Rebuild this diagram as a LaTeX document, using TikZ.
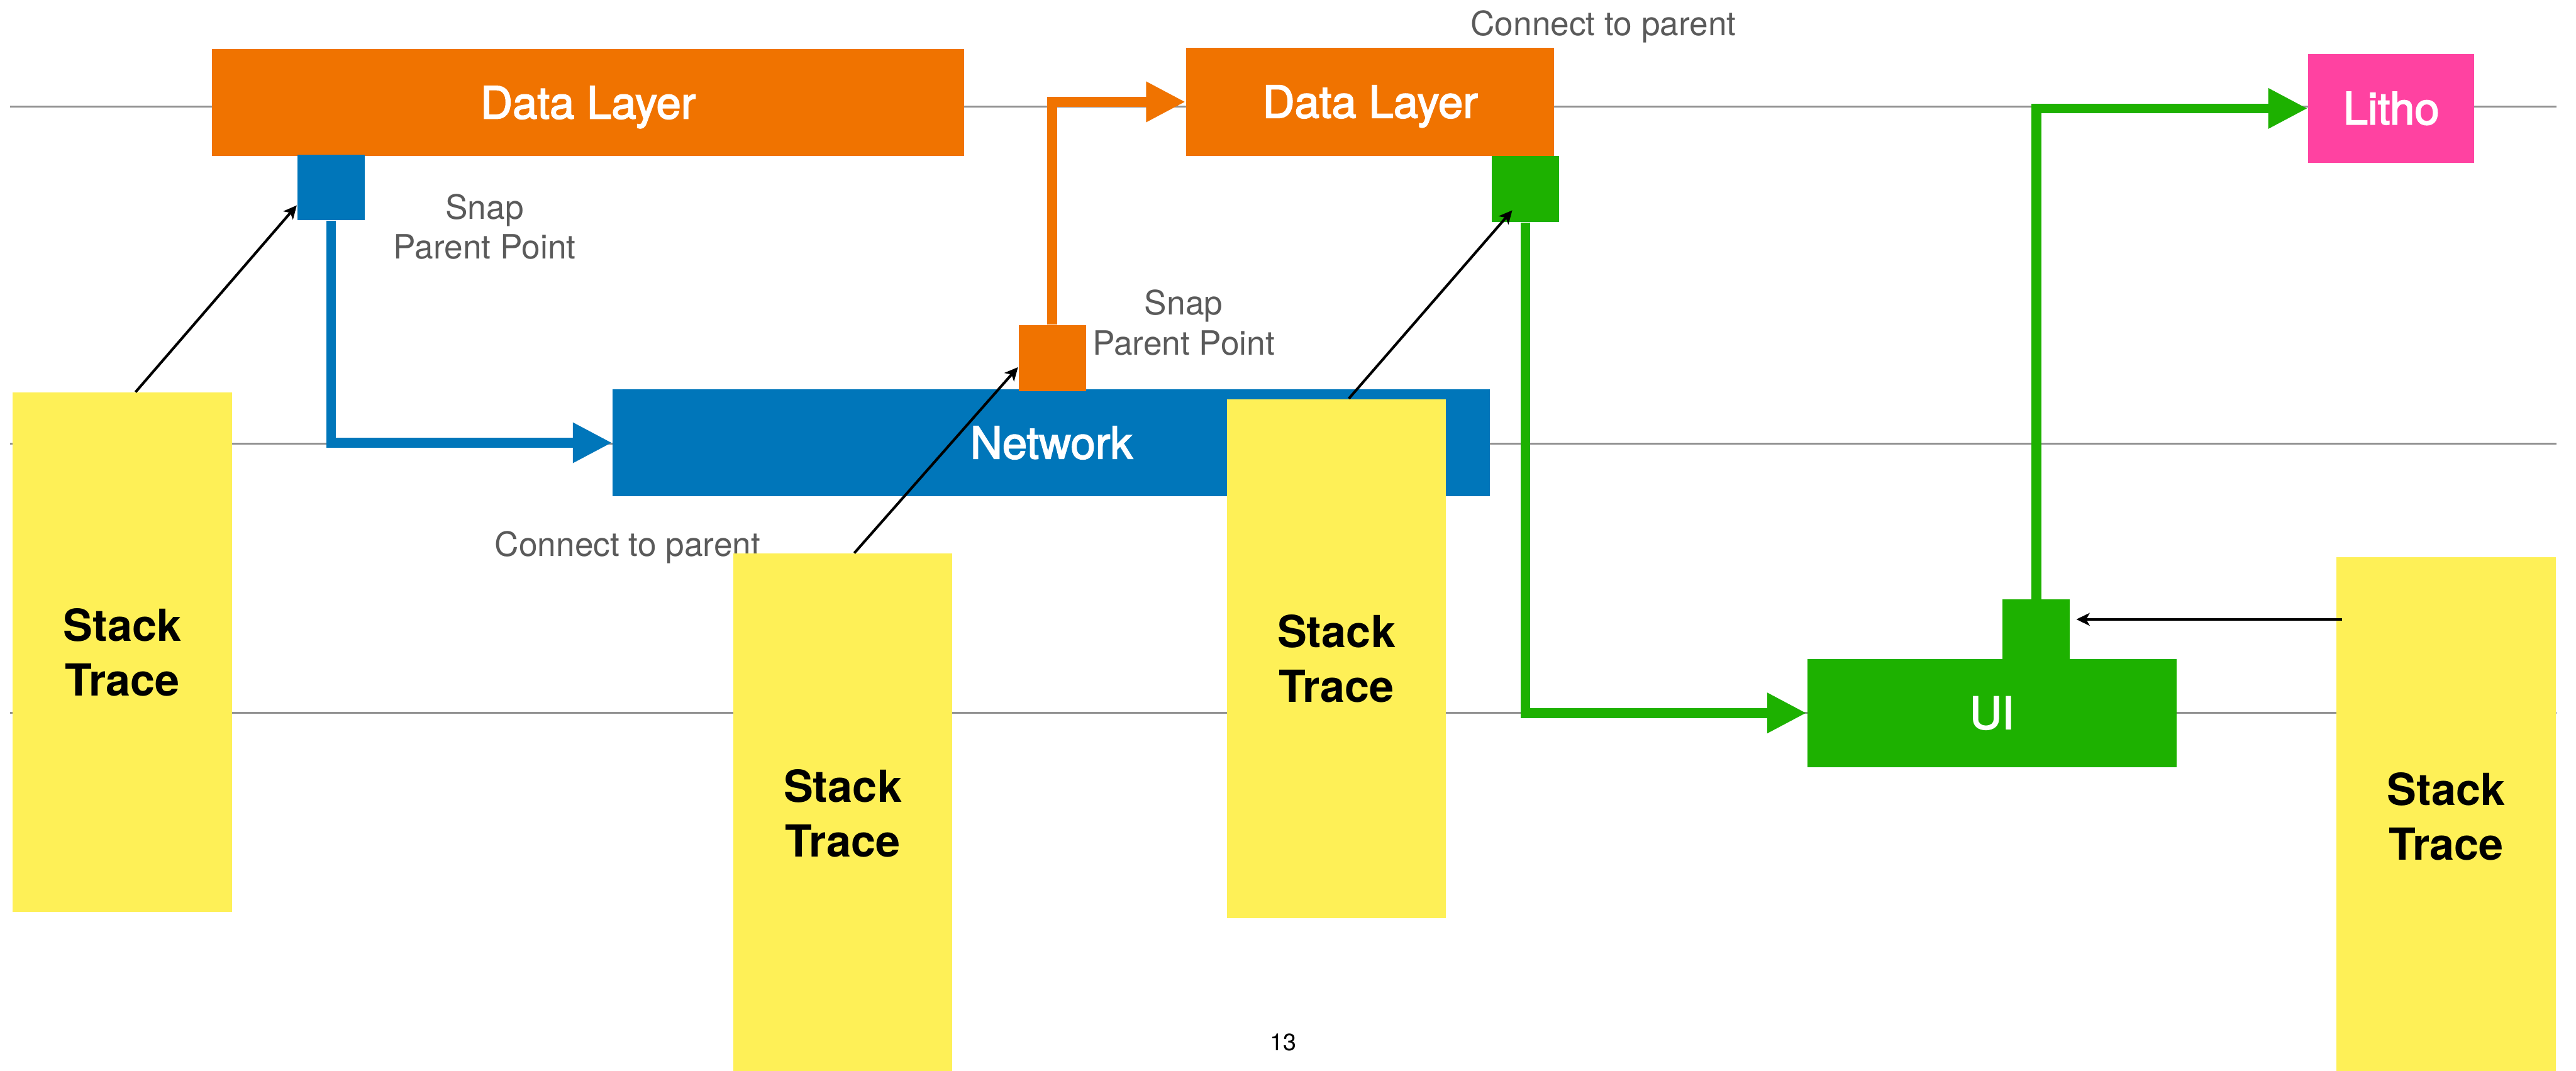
\documentclass[tikz,border=0pt]{standalone}
\usepackage{fontspec}
\setmainfont{TeX Gyre Heros}
\newfontfamily\layerfont[FakeBold=2.5]{TeX Gyre Heros}
\usetikzlibrary{arrows.meta}

\definecolor{dlorange}{RGB}{240,115,0}
\definecolor{netblue}{RGB}{0,118,186}
\definecolor{uigreen}{RGB}{29,177,0}
\definecolor{lithopink}{RGB}{255,66,161}
\definecolor{stickyyellow}{RGB}{254,240,87}
\definecolor{rulegray}{RGB}{146,146,146}
\definecolor{notegray}{RGB}{90,90,90}

\begin{document}
\begin{tikzpicture}[y=-1cm,
    layer/.style={fill=#1, text=white, minimum height=1.3cm, inner sep=0pt,
      font=\layerfont\fontsize{15.4}{18}\selectfont, text height=11pt, text depth=0pt},
    snapbox/.style={fill=#1, minimum width=0.82cm, minimum height=0.8cm, inner sep=0pt},
    stacknote/.style={fill=stickyyellow, minimum width=2.67cm, minimum height=6.32cm,
      align=center, font=\bfseries\fontsize{15.3}{19}\selectfont},
    note/.style={text=notegray, align=center, inner sep=0pt, font=\fontsize{11.6}{13.9}\selectfont},
    link/.style={draw=#1, line width=3.4pt, -{Triangle[length=4.8mm,width=4.6mm]}},
    ptr/.style={line width=0.9pt, -{Stealth[length=4.6pt,width=4.4pt,inset=1.2pt]}}]
    \useasboundingbox (0,0) rectangle (31.36,13.033);

    % Thread rows
    \foreach \y in {1.30,5.40,8.68}
        \draw[rulegray, line width=0.7pt] (0.12,\y) -- (31.12,\y);

    % Layers
    \node[layer=dlorange, minimum width=9.16cm] (data1) at (7.16,1.25) {Data Layer};
    \node[layer=netblue, minimum width=10.68cm] (net) at (12.80,5.39) {Network};
    \node[layer=dlorange, minimum width=4.48cm, minimum height=1.32cm] (data2) at (16.68,1.24) {Data Layer};
    \node[layer=uigreen, minimum width=4.50cm, minimum height=1.32cm] (ui) at (24.25,8.68) {UI};
    \node[layer=lithopink, minimum width=2.02cm, minimum height=1.32cm] (litho) at (29.11,1.32) {Litho};

    % Parent points
    \node[snapbox=netblue] (netpt) at (4.03,2.28) {};
    \node[snapbox=dlorange] (datapt) at (12.81,4.36) {};
    \node[snapbox=uigreen] (uipt) at (18.57,2.30) {};
    \node[snapbox=uigreen] (lithopt) at (24.79,7.70) {};

    % Parent links
    \draw[link=netblue] (netpt.south) |- (net.west);
    \draw[link=dlorange] (datapt.north) |- (data2.west);
    \draw[link=uigreen] (uipt.south) |- (ui.west);
    \draw[link=uigreen] (lithopt.north) |- (litho.west);

    % Notes
    \node[note] (snap1) at (5.90,2.76) {Snap\\Parent Point};
    \node[note] (snap2) at (14.41,3.93) {Snap\\Parent Point};
    \node[note, anchor=base] (conn1) at (7.64,6.77) {Connect to parent};
    \node[note, anchor=base] (conn2) at (19.52,0.43) {Connect to parent};

    % Stack traces
    \node[stacknote] (trace1) at (1.49,7.94) {Stack\\Trace};
    \node[stacknote] (trace2) at (10.26,9.90) {Stack\\Trace};
    \node[stacknote] (trace3) at (16.27,8.02) {Stack\\Trace};
    \node[stacknote] (trace4) at (29.78,9.94) {Stack\\Trace};

    % Snapping
    \draw[ptr] ([xshift=1.6mm]trace1.north) -- ([yshift=-2.2mm]netpt.west);
    \draw[ptr] ([xshift=1.4mm]trace2.north) -- ([yshift=-1.1mm]datapt.west);
    \draw[ptr] ([xshift=1.5mm]trace3.north) -- ([xshift=-1.6mm,yshift=-2.6mm]uipt.center);
    \coordinate (lithoin) at ([xshift=0.7mm,yshift=1.6mm]lithopt.east);
    \draw[ptr, shorten <=-0.7mm] (trace4.west |- lithoin) -- (lithoin);

    \node[anchor=base, inner sep=0pt, font=\fontsize{8.2}{10}\selectfont] (pagenum) at (15.62,12.79) {13};
\end{tikzpicture}
\end{document}
